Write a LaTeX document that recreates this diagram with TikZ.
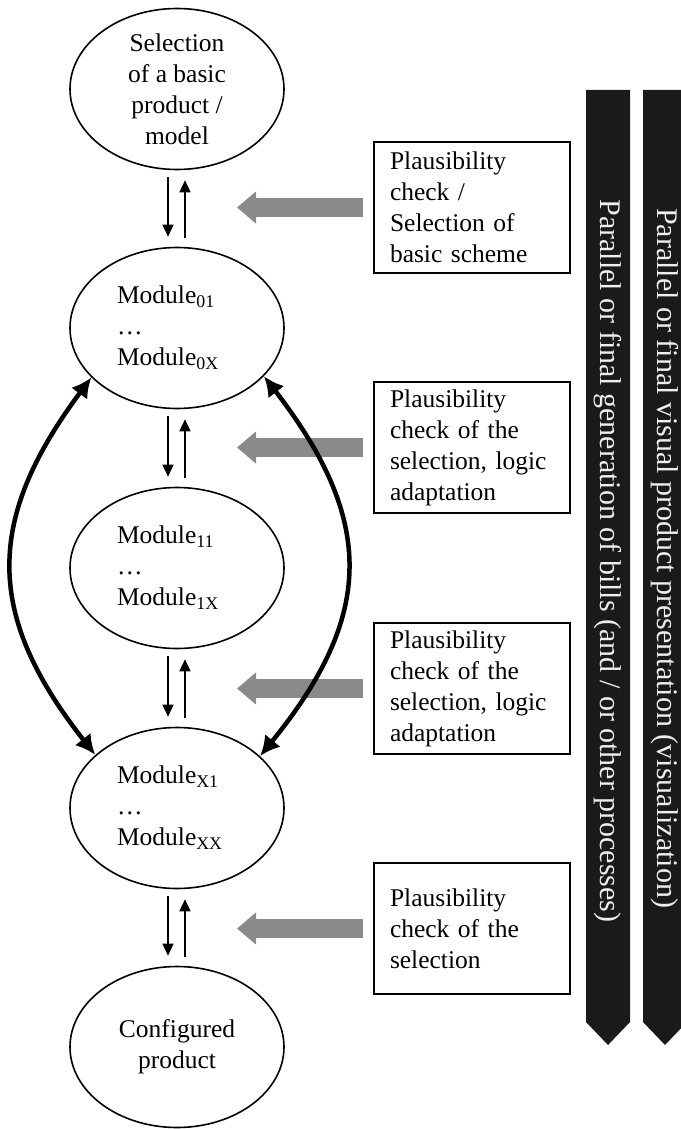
\documentclass[tikz,border=0pt]{standalone}
\usepackage{fontspec}
\setmainfont{Liberation Serif}
\usetikzlibrary{shapes.geometric,arrows.meta}
\definecolor{hintgray}{RGB}{138,138,138}
\definecolor{barfill}{RGB}{26,26,26}
\definecolor{bartxt}{RGB}{238,238,238}

\begin{document}
\begin{tikzpicture}[x=1pt,y=-1pt,
  every node/.style={font=\fontsize{25.5}{31}\selectfont},
  stage/.style={ellipse, draw, line width=1.6pt, minimum width=214pt,
    minimum height=161pt, inner sep=0pt},
  modules/.style={stage, text width=120pt, align=left},
  checkbox/.style={rectangle, draw, line width=2pt, minimum width=196pt,
    minimum height=131pt, text width=164pt, inner xsep=16pt, align=left},
  flow/.style={line width=1.3pt, -{Triangle[length=12pt,width=11pt]}},
  loopback/.style={line width=4.5pt,
    {Latex[length=20pt,width=20pt]}-{Latex[length=20pt,width=20pt]}},
  hint/.style={line width=19pt, draw=hintgray,
    -{Triangle[length=19pt,width=31pt]}},
  bartext/.style={text=bartxt, rotate=-90, inner sep=0pt,
    font=\fontsize{30}{36}\selectfont},
]
\useasboundingbox (0,0) rectangle (680,1129);

% configuration stages
\node[stage, align=center] (e1) at (177,89)
  {Selection\\of a basic\\product /\\model};
\node[modules] (e2) at (177,328)
  {Module\textsubscript{01}\\\ldots\\Module\textsubscript{0X}};
\node[modules] (e3) at (177,568)
  {Module\textsubscript{11}\\\ldots\\Module\textsubscript{1X}};
\node[modules] (e4) at (177,808)
  {Module\textsubscript{X1}\\\ldots\\Module\textsubscript{XX}};
\node[stage, align=center] (e5) at (177,1047)
  {Configured\\product};

% checks applied between stages
\node[checkbox] (b1) at (472,207.5)
  {Plausibility\\check /\\Selection of\\basic scheme};
\node[checkbox] (b2) at (472,447.5)
  {Plausibility\\check of the\\selection, logic\\adaptation};
\node[checkbox] (b3) at (472,688.5)
  {Plausibility\\check of the\\selection, logic\\adaptation};
\node[checkbox] (b4) at (472,928.5)
  {Plausibility\\check of the\\selection};

% forward / backward steps
\foreach \a/\b in {e1/e2, e2/e3, e3/e4, e4/e5} {
  \draw[flow] ([xshift=-9pt,yshift=-7pt]\a.south)
    -- ([xshift=-9pt,yshift=10pt]\b.north);
  \draw[flow] ([xshift=8pt,yshift=9pt]\b.north)
    -- ([xshift=8pt,yshift=-10pt]\a.south);
}

% check arrows
\foreach \b in {b1,b2,b3,b4} {
  \draw[hint] ([xshift=-10pt]\b.west) -- ([xshift=-136pt]\b.west);
}

% loops between module levels
\draw[loopback] (e2.210) .. controls (-15,520) and (-15,615) .. (e4.147);
\draw[loopback] (e2.331) .. controls (375,520) and (375,615) .. (e4.32);

% parallel processes
\fill[barfill] (586,90) -- (630,90) -- (630,1022) -- (608,1045)
  -- (586,1022) -- cycle;
\fill[barfill] (643,90) -- (687,90) -- (687,1022) -- (665,1045)
  -- (643,1022) -- cycle;
\node[bartext] (t1) at (608,561)
  {Parallel or final generation of bills (and / or other processes)};
\node[bartext] (t2) at (665,558)
  {Parallel or final visual product presentation (visualization)};
\end{tikzpicture}
\end{document}
